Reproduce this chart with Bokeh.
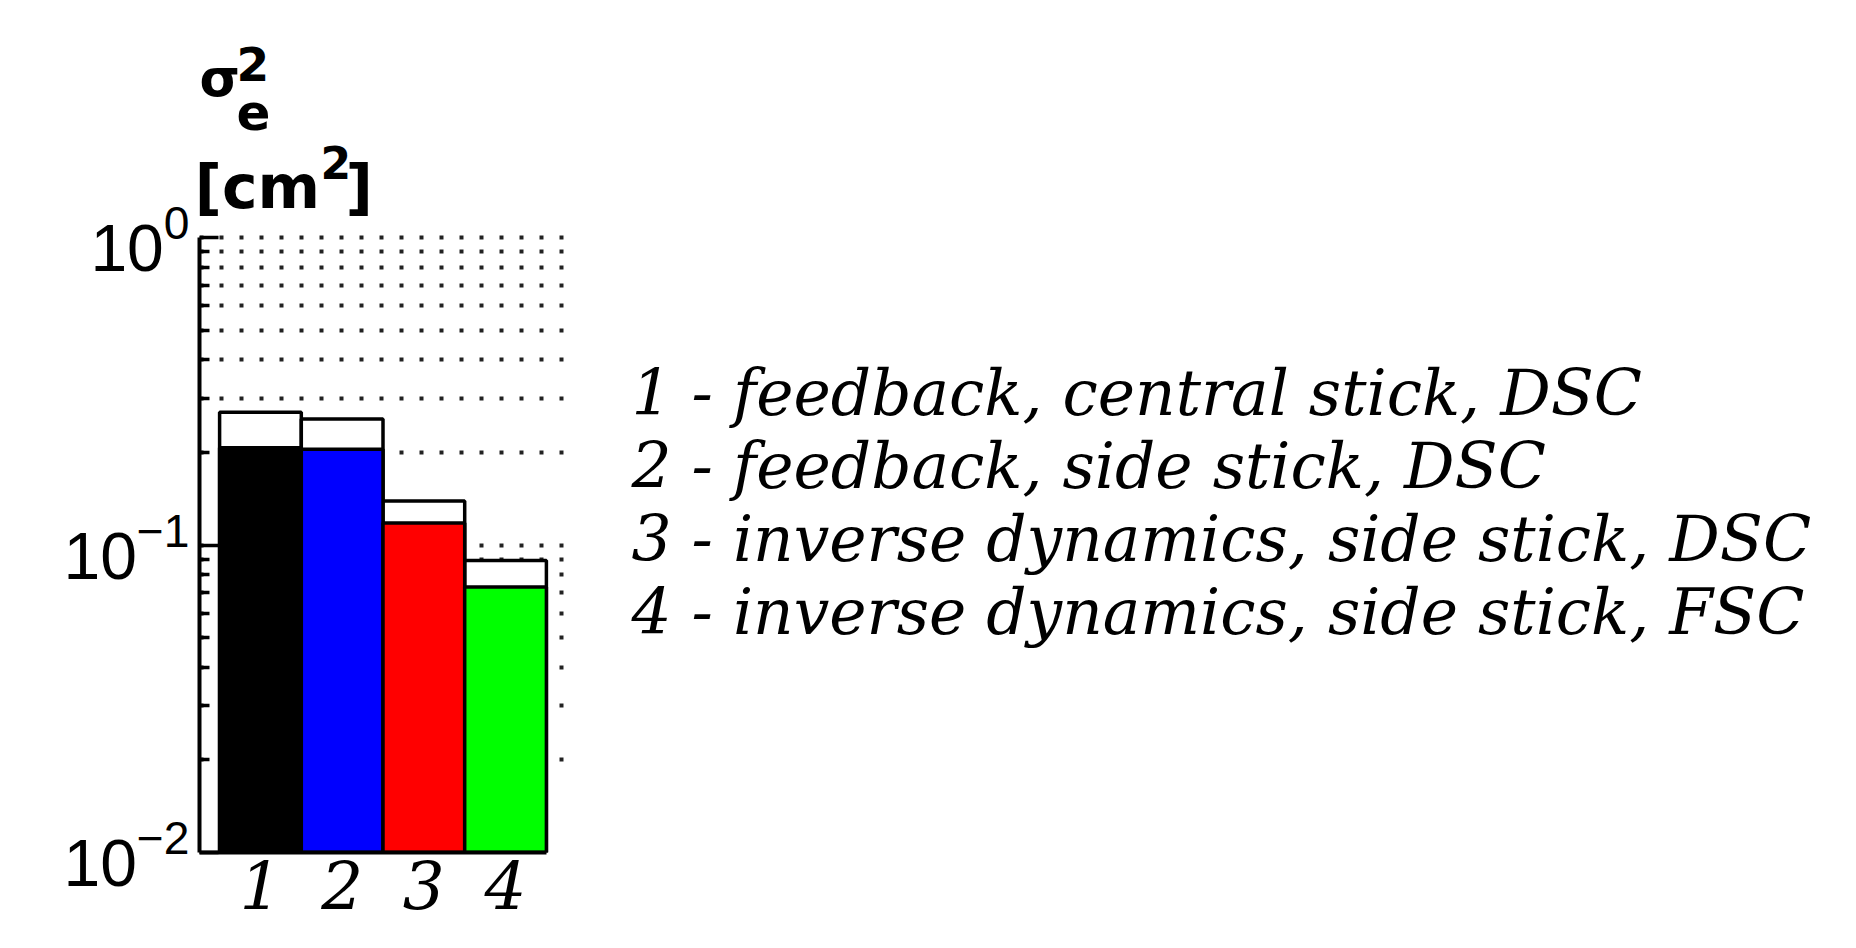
from bokeh.plotting import figure
from bokeh.layouts import row
from bokeh.models import FixedTicker, LogTickFormatter, Range1d, ColumnDataSource
from bokeh.core.properties import value
from bokeh.embed import file_html
from bokeh.resources import INLINE

# ---------------- data ----------------
categories = [1, 2, 3, 4]
category_labels = ["1", "2", "3", "4"]
totals = [0.270, 0.257, 0.139, 0.089]      # full bar height (white upper part)
lower = [0.207, 0.205, 0.118, 0.073]       # coloured part
colors = ["#000000", "#0000ff", "#ff0000", "#00ff00"]
legend_lines = [
    "1 - feedback, central stick, DSC",
    "2 - feedback, side stick, DSC",
    "3 - inverse dynamics, side stick, DSC",
    "4 - inverse dynamics, side stick, FSC",
]
y_major = [0.01, 0.1, 1.0]
y_minor = [m * d for d in (0.01, 0.1) for m in range(2, 10)]

# ---------------- layout (page pixels) ----------------
X0, X1 = 0.254, 4.746
Y0 = 0.01
FL, FW = 199, 367            # frame left / width
FTOP, FBOT = 30, 852         # frame top / bottom (y = 1 sits at 237)
DEC = 307.5                  # pixels per decade
H = 940
RB = 40                      # right border of chart figure
CW = FL + FW + RB            # chart figure width
LW = 1840 - CW               # legend figure width
Y1 = 10 ** (-2 + (FBOT - FTOP) / DEC)
BASE_K = 0.35                # alphabetic-baseline correction (fraction of font size)


def xd(px):
    return X0 + (px - FL) / FW * (X1 - X0)


def yd(py):
    return 10 ** (-2 + (FBOT - py) / DEC)


p = figure(
    x_range=Range1d(X0, X1), y_range=Range1d(Y0, Y1), y_axis_type="log",
    frame_width=FW, frame_height=FBOT - FTOP,
    min_border_left=FL, min_border_top=FTOP,
    min_border_right=RB, min_border_bottom=H - FBOT,
    output_backend="svg", toolbar_location=None, title=None,
    background_fill_color="white", border_fill_color="white",
)
p.outline_line_color = None

# bars
p.vbar(x=categories, width=1.0, bottom=Y0, top=totals,
       fill_color="white", line_color="black", line_width=3.5)
p.vbar(x=categories, width=1.0, bottom=Y0, top=lower,
       fill_color=colors, line_color="black", line_width=3.5)

# y axis
yticker = FixedTicker(ticks=y_major, minor_ticks=y_minor)
ya = p.yaxis[0]
ya.ticker = yticker
ya.formatter = LogTickFormatter()
ya.bounds = (Y0, 1.0)
ya.axis_line_width = 4
ya.major_tick_in = 19
ya.major_tick_out = 0
ya.minor_tick_in = 10
ya.minor_tick_out = 0
ya.major_tick_line_width = 3.5
ya.minor_tick_line_width = 3.5
ya.major_label_standoff = 10
ya.major_label_text_font = "Liberation Sans"
ya.major_label_text_font_size = "66px"
ya.major_label_text_color = "black"

# x axis
xa = p.xaxis[0]
xa.ticker = FixedTicker(ticks=categories)
xa.major_label_overrides = {c: l for c, l in zip(categories, category_labels)}
xa.bounds = (X0, 4.5)
xa.axis_line_width = 4
xa.major_tick_in = 0
xa.major_tick_out = 0
xa.minor_tick_in = 0
xa.minor_tick_out = 0
xa.major_label_standoff = 8
xa.major_label_text_font = "DejaVu Serif"
xa.major_label_text_font_style = "italic"
xa.major_label_text_font_size = "66px"
xa.major_label_text_color = "black"

# grid
p.xgrid.visible = False
g = p.ygrid[0]
g.ticker = yticker
g.grid_line_color = "#222222"
g.grid_line_width = 4
g.grid_line_dash = "4 16"
g.minor_grid_line_color = "#222222"
g.minor_grid_line_width = 4
g.minor_grid_line_dash = "4 16"

# y label  sigma_e^2 [cm^2]
for txt, px, py, size in [("σ", 199, 96, 52), ("2", 236, 80, 47),
                          ("e", 236, 129, 50), ("[cm", 194, 207, 60),
                          ("2", 320, 177, 44), ("]", 345, 207, 60)]:
    p.text(x=[xd(px)], y=[yd(py - BASE_K * size)], text=[txt],
           text_font=value("DejaVu Sans"),
           text_font_style="bold", text_font_size=f"{size}px", text_align="left",
           text_baseline="alphabetic", text_color="black")

# legend text (separate figure to the right, frame aligned with the chart)
LEG_SIZE = 63
q = figure(
    x_range=Range1d(0, LW), y_range=Range1d(FBOT, FTOP),
    frame_width=LW, frame_height=FBOT - FTOP,
    min_border_left=0, min_border_right=0,
    min_border_top=FTOP, min_border_bottom=H - FBOT,
    x_axis_location=None, y_axis_location=None, title=None,
    output_backend="svg", toolbar_location=None,
    background_fill_color="white", border_fill_color="white",
)
q.outline_line_color = None
q.grid.visible = False
src = ColumnDataSource(dict(
    x=[631 - CW] * len(legend_lines),
    y=[415 + 73 * i - BASE_K * LEG_SIZE for i in range(len(legend_lines))],
    text=legend_lines,
))
q.text(x="x", y="y", text="text", source=src, text_font=value("DejaVu Serif"),
       text_font_style="italic", text_font_size=f"{LEG_SIZE}px", text_align="left",
       text_baseline="alphabetic", text_color="black")

layout = row(p, q, spacing=0)
open("out.html", "w").write(file_html(layout, INLINE))
